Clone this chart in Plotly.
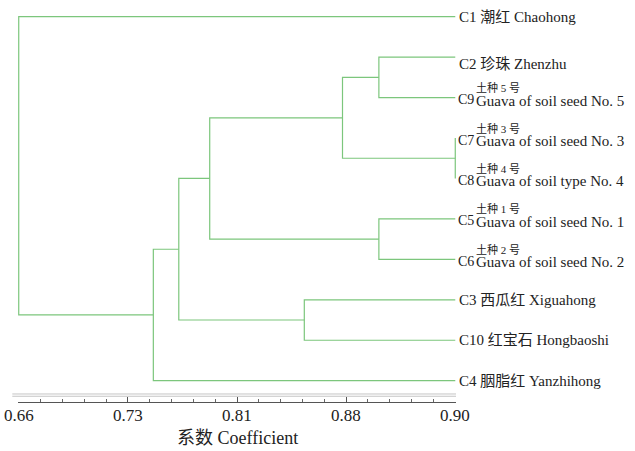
import plotly.graph_objects as go

# ---- data ----
leaves = ["C1", "C2", "C9", "C7", "C8", "C5", "C6", "C3", "C10", "C4"]
names_cn = ["潮红", "珍珠", "土种 5 号", "土种 3 号", "土种 4 号", "土种 1 号", "土种 2 号", "西瓜红", "红宝石", "胭脂红"]
names_en = ["Chaohong", "Zhenzhu", "Guava of soil seed No. 5", "Guava of soil seed No. 3",
            "Guava of soil type No. 4", "Guava of soil seed No. 1", "Guava of soil seed No. 2",
            "Xiguahong", "Hongbaoshi", "Yanzhihong"]

# merges: new cluster name, left member, right member, similarity coefficient
merge_names = ["m1", "m2", "m3", "m4", "m5", "m6", "m7", "m8", "m9"]
merge_left = ["C7", "C2", "m2", "C5", "m3", "C3", "m5", "m7", "C1"]
merge_right = ["C8", "C9", "m1", "C6", "m4", "C10", "m6", "C4", "m8"]
merge_height = [0.900, 0.858, 0.838, 0.858, 0.765, 0.817, 0.748, 0.734, 0.660]

tick_labels = ["0.66", "0.73", "0.81", "0.88", "0.90"]
axis_title = "系数 Coefficient"
x_min, x_max = 0.66, 0.90

# ---- build dendrogram segments ----
pos_y = {name: i for i, name in enumerate(leaves)}
pos_x = {name: x_max for name in leaves}
xs, ys = [], []
for nm, a, b, h in zip(merge_names, merge_left, merge_right, merge_height):
    xs += [pos_x[a], h, h, pos_x[b], None]
    ys += [pos_y[a], pos_y[a], pos_y[b], pos_y[b], None]
    pos_x[nm] = h
    pos_y[nm] = (pos_y[a] + pos_y[b]) / 2

fig = go.Figure()
fig.add_trace(go.Scatter(x=xs, y=ys, mode="lines",
                         line=dict(color="#7cc67c", width=1.2),
                         hoverinfo="skip", showlegend=False))

SERIF = "Liberation Serif, Noto Sans CJK SC"
ann = []
for i, (code, cn, en) in enumerate(zip(leaves, names_cn, names_en)):
    if en.startswith("Guava"):
        ann.append(dict(x=x_max, y=i, text=code, xanchor="left", yanchor="middle",
                        xshift=1, yshift=-2, showarrow=False,
                        font=dict(family=SERIF, size=14, color="#222")))
        ann.append(dict(x=x_max, y=i, text=cn, xanchor="left", yanchor="middle",
                        xshift=19, yshift=10, showarrow=False,
                        font=dict(family=SERIF, size=11, color="#222")))
        ann.append(dict(x=x_max, y=i, text=en, xanchor="left", yanchor="middle",
                        xshift=19, yshift=-3, showarrow=False,
                        font=dict(family=SERIF, size=15, color="#222")))
    else:
        ann.append(dict(x=x_max, y=i, text=f"{code} {cn} {en}", xanchor="left", yanchor="middle",
                        xshift=2, yshift=(-7 if code == "C2" else 0), showarrow=False,
                        font=dict(family=SERIF, size=15, color="#222")))

n_t = len(tick_labels)
tick_vals = [x_min + (x_max - x_min) * k / (n_t - 1) for k in range(n_t)]
minor_step = (x_max - x_min) / (n_t - 1) / 5

# tick labels and axis title drawn as serif annotations tied to the x axis
for tv, tl in zip(tick_vals, tick_labels):
    ann.append(dict(x=tv, xref="x", y=0, yref="paper", text=tl, xanchor="center",
                    yanchor="middle", yshift=-13, showarrow=False,
                    font=dict(family="Liberation Serif", size=17, color="#222")))
ann.append(dict(x=0.5, xref="paper", y=0, yref="paper", text=axis_title, xanchor="center",
                yanchor="middle", yshift=-36, showarrow=False,
                font=dict(family=SERIF, size=18, color="#222")))

fig.update_layout(
    width=635, height=451,
    margin=dict(l=18, r=179, t=5, b=49),
    paper_bgcolor="white", plot_bgcolor="white",
    font=dict(family="Liberation Serif", color="#222"),
    annotations=ann,
    xaxis=dict(range=[x_min - 0.0004, x_max + 0.0004], showgrid=False, zeroline=False,
               showline=True, linecolor="#555", linewidth=1,
               tickmode="array", tickvals=tick_vals, ticktext=tick_labels,
               showticklabels=False,
               ticks="inside", ticklen=5, tickcolor="#555", tickwidth=1,
               minor=dict(tickmode="linear", tick0=x_min, dtick=minor_step,
                          ticks="inside", ticklen=3, tickcolor="#666", tickwidth=1)),
    yaxis=dict(range=[9.527, -0.289], visible=False),
    shapes=[
        dict(type="line", xref="paper", yref="paper", x0=-0.013, x1=1.0, y0=0.0202, y1=0.0202,
             line=dict(color="#c4c4c4", width=1)),
        dict(type="line", xref="paper", yref="paper", x0=-0.013, x1=1.0, y0=0.0145, y1=0.0145,
             line=dict(color="#c4c4c4", width=1)),
    ],
)

fig.write_html("out.html", config={"displayModeBar": False},
               post_script="document.body.style.margin='0';document.body.style.overflow='hidden';")
